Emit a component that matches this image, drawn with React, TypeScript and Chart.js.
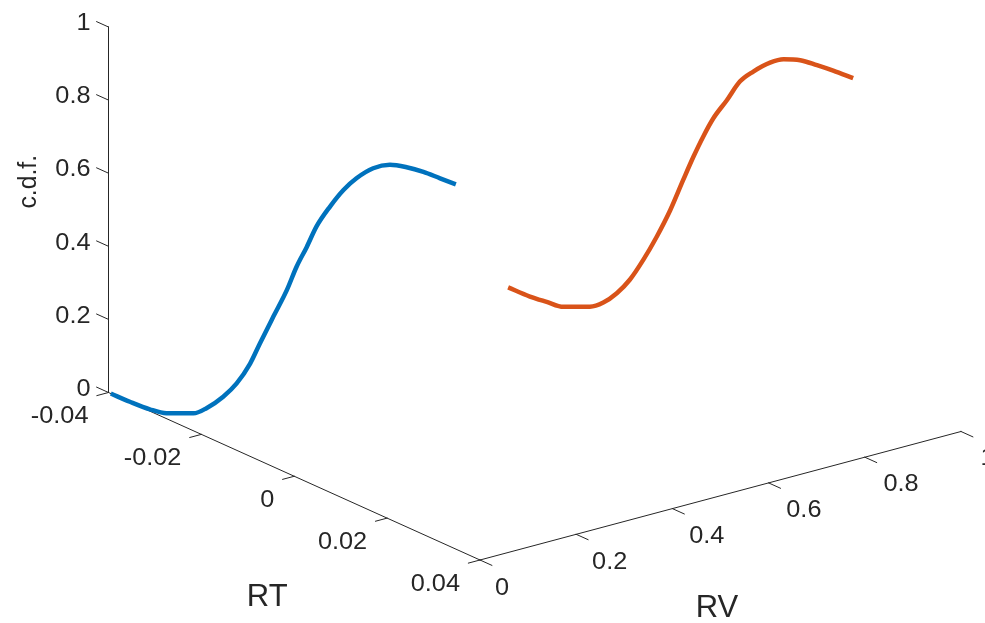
import { useEffect, useRef } from "react";
import { Chart, registerables } from "chart.js";

Chart.register(...registerables);

const W = 985;
const H = 623;

// Axis ranges and tick marks
const RT_RANGE = [-0.04, 0.04];
const RV_RANGE = [0, 1];
const CDF_RANGE = [0, 1];
const rtTicks = [-0.04, -0.02, 0, 0.02, 0.04];
const rtTickLabels = ["-0.04", "-0.02", "0", "0.02", "0.04"];
const rvTicks = [0, 0.2, 0.4, 0.6, 0.8, 1];
const rvTickLabels = ["0", "0.2", "0.4", "0.6", "0.8", "1"];
const cdfTicks = [0, 0.2, 0.4, 0.6, 0.8, 1];
const cdfTickLabels = ["0", "0.2", "0.4", "0.6", "0.8", "1"];

// First curve: c.d.f. over RT, drawn on the RV = 0 wall
const rtValuesA = [
  -0.0395, -0.0354, -0.0311, -0.0275, -0.0217, -0.0189, -0.0153, -0.0124,
  -0.0095, -0.0074, -0.0045, -0.0016, 0.0005, 0.0027, 0.0048, 0.0077, 0.0106,
  0.0134, 0.017, 0.0206, 0.0242, 0.0278, 0.0314, 0.0348,
];
const cdfA = [
  0.0, 0.001, 0.005, 0.015, 0.048, 0.078, 0.13, 0.183, 0.254, 0.321, 0.411,
  0.5, 0.576, 0.643, 0.711, 0.782, 0.844, 0.892, 0.94, 0.97, 0.984, 0.992,
  0.995, 0.998,
];
const rvLevelA = 0;

// Second curve: same layout, set back at RV = 0.826
const rtValuesB = [
  -0.0395, -0.0348, -0.0312, -0.0276, -0.0219, -0.019, -0.0161, -0.0133,
  -0.0104, -0.0075, -0.0046, -0.0018, 0.0004, 0.0025, 0.0047, 0.0076, 0.0104,
  0.0133, 0.0169, 0.0198, 0.0234, 0.027, 0.0305, 0.0348,
];
const cdfB = [
  0.0, 0.002, 0.008, 0.015, 0.048, 0.076, 0.118, 0.171, 0.242, 0.322, 0.411,
  0.51, 0.586, 0.653, 0.716, 0.782, 0.849, 0.893, 0.938, 0.964, 0.982, 0.989,
  0.994, 0.998,
];
const rvLevelB = 0.826;

// Orthographic view of the box, in canvas units
const VIEW = {
  origin: { x: 108.5, y: 392.5 },
  rtSpan: { x: 371.5, y: 167.5 },
  rvSpan: { x: 481, y: -128.5 },
  zSpan: { x: 0, y: -365.5 },
};

const INK = "#262626";
const FONT = "'Liberation Sans', Arial, Helvetica, sans-serif";

function project(rt: number, rv: number, z: number) {
  const u = (rt - RT_RANGE[0]) / (RT_RANGE[1] - RT_RANGE[0]);
  const v = (rv - RV_RANGE[0]) / (RV_RANGE[1] - RV_RANGE[0]);
  const w = (z - CDF_RANGE[0]) / (CDF_RANGE[1] - CDF_RANGE[0]);
  return {
    x: VIEW.origin.x + u * VIEW.rtSpan.x + v * VIEW.rvSpan.x + w * VIEW.zSpan.x,
    y: VIEW.origin.y + u * VIEW.rtSpan.y + v * VIEW.rvSpan.y + w * VIEW.zSpan.y,
  };
}

function unit(v: { x: number; y: number }, sign: number) {
  const len = Math.hypot(v.x, v.y);
  return { x: (sign * v.x) / len, y: (sign * v.y) / len };
}

function drawText(
  ctx: CanvasRenderingContext2D,
  text: string,
  x: number,
  y: number,
  size: number,
  align: CanvasTextAlign,
  stretch = 1,
  rotate = 0
) {
  ctx.save();
  ctx.translate(x, y);
  if (rotate) ctx.rotate(rotate);
  ctx.scale(stretch, 1);
  ctx.font = `${size}px ${FONT}`;
  ctx.textAlign = align;
  ctx.textBaseline = "alphabetic";
  ctx.fillStyle = INK;
  // place the digit/cap middle on y
  ctx.fillText(text, 0, size * 0.358);
  ctx.restore();
}

const box3d = {
  id: "box3d",
  beforeDatasetsDraw(chart: any) {
    const ctx: CanvasRenderingContext2D = chart.ctx;
    const sx = chart.scales.x;
    const sy = chart.scales.y;
    const px = (p: { x: number; y: number }) => ({
      x: sx.getPixelForValue(p.x),
      y: sy.getPixelForValue(p.y),
    });
    const P = (rt: number, rv: number, z: number) => px(project(rt, rv, z));

    ctx.save();
    ctx.strokeStyle = INK;
    ctx.lineWidth = 1;
    ctx.lineCap = "square";

    const line = (a: any, b: any) => {
      ctx.beginPath();
      ctx.moveTo(a.x, a.y);
      ctx.lineTo(b.x, b.y);
      ctx.stroke();
    };

    // Axis lines
    line(P(RT_RANGE[0], 0, 0), P(RT_RANGE[1], 0, 0));
    line(P(RT_RANGE[1], RV_RANGE[0], 0), P(RT_RANGE[1], RV_RANGE[1], 0));
    line(P(RT_RANGE[0], 0, CDF_RANGE[0]), P(RT_RANGE[0], 0, CDF_RANGE[1]));

    const TICK = 13;
    const rtOut = unit(VIEW.rvSpan, -1);
    const rvOut = unit(VIEW.rtSpan, 1);
    const zOut = unit(VIEW.rtSpan, -1);

    rtTicks.forEach((t, i) => {
      const a = P(t, 0, 0);
      line(a, { x: a.x + rtOut.x * 12, y: a.y + rtOut.y * 12 });
      drawText(ctx, rtTickLabels[i], a.x - 20, a.y + 22.5, 23, "right", 1.1);
    });
    rvTicks.forEach((t, i) => {
      const a = P(RT_RANGE[1], t, 0);
      const f = (t - RV_RANGE[0]) / (RV_RANGE[1] - RV_RANGE[0]);
      line(a, { x: a.x + rvOut.x * TICK, y: a.y + rvOut.y * TICK });
      drawText(ctx, rvTickLabels[i], a.x + 15 + 4.5 * f, a.y + 27 - 2 * f, 23, "left", 1.1);
    });
    cdfTicks.forEach((t, i) => {
      const a = P(RT_RANGE[0], 0, t);
      line(a, { x: a.x + zOut.x * TICK, y: a.y + zOut.y * TICK });
      drawText(ctx, cdfTickLabels[i], a.x - 18, a.y - 5, 23, "right", 1.1);
    });

    // Axis titles
    const rtMid = P((RT_RANGE[0] + RT_RANGE[1]) / 2, 0, 0);
    drawText(ctx, "RT", rtMid.x - 27, rtMid.y + 119, 31, "center");
    const rvMid = P(RT_RANGE[1], (RV_RANGE[0] + RV_RANGE[1]) / 2, 0);
    drawText(ctx, "RV", rvMid.x - 3.5, rvMid.y + 110, 31, "center");
    const zMid = P(RT_RANGE[0], 0, (CDF_RANGE[0] + CDF_RANGE[1]) / 2);
    drawText(ctx, "c.d.f.", zMid.x - 82, zMid.y - 28, 26, "center", 0.95, -Math.PI / 2);

    ctx.restore();
  },
};

function curve(rt: number[], cdf: number[], rv: number) {
  return rt.map((r, i) => project(r, rv, cdf[i]));
}

export default function App() {
  const ref = useRef<HTMLCanvasElement | null>(null);

  useEffect(() => {
    if (!ref.current) return;
    const chart = new Chart(ref.current, {
      type: "scatter",
      data: {
        datasets: [
          {
            label: "RT",
            data: curve(rtValuesA, cdfA, rvLevelA),
            showLine: true,
            borderColor: "#0072BD",
            backgroundColor: "#0072BD",
            borderWidth: 4.5,
            pointRadius: 0,
            cubicInterpolationMode: "monotone",
          },
          {
            label: "RV",
            data: curve(rtValuesB, cdfB, rvLevelB),
            showLine: true,
            borderColor: "#D95319",
            backgroundColor: "#D95319",
            borderWidth: 4.5,
            pointRadius: 0,
            cubicInterpolationMode: "monotone",
          },
        ],
      },
      options: {
        responsive: false,
        animation: false,
        layout: { padding: 0 },
        plugins: { legend: { display: false }, tooltip: { enabled: false } },
        scales: {
          x: { type: "linear", min: 0, max: W, display: false },
          y: { type: "linear", min: 0, max: H, reverse: true, display: false },
        },
      },
      plugins: [box3d],
    });
    return () => chart.destroy();
  }, []);

  return (
    <canvas
      ref={ref}
      width={W}
      height={H}
      style={{ position: "fixed", left: 0, top: 0, background: "#fff" }}
    />
  );
}
